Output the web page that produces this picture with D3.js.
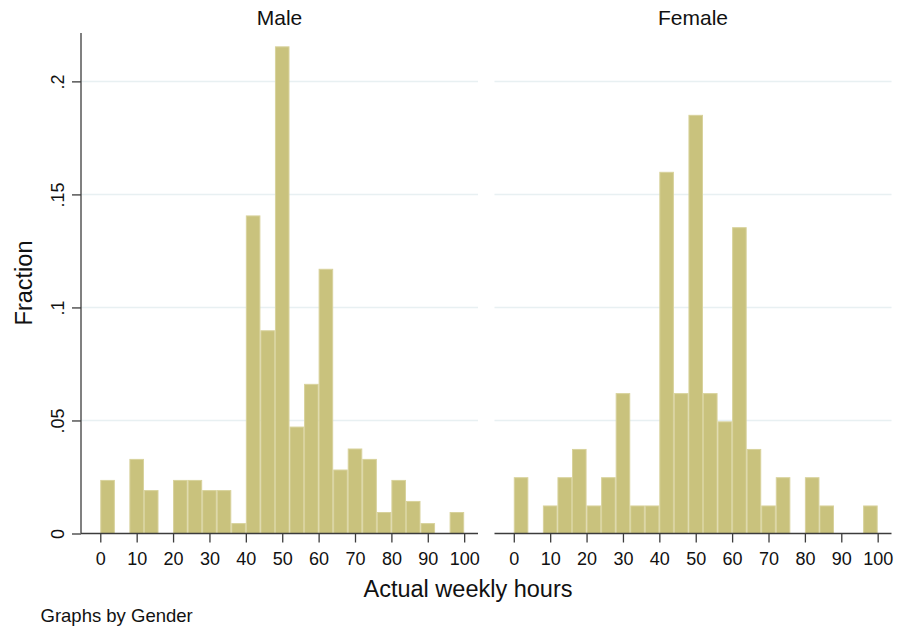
<!DOCTYPE html>
<html>
<head>
<meta charset="utf-8">
<script src="https://cdn.jsdelivr.net/npm/d3@7"></script>
<style>
  html, body { margin: 0; padding: 0; background: #fff; }
  svg { display: block; font-family: "Liberation Sans", Arial, sans-serif; }
</style>
</head>
<body>
<div id="chart"></div>
<script>
// Bin lower edges (width 4 hours)
const binStarts = [0,4,8,12,16,20,24,28,32,36,40,44,48,52,56,60,64,68,72,76,80,84,88,92,96];
const binWidth = 4;
const panels = ["Male", "Female"];
const maleFraction = [0.0237,0,0.0330,0.0192,0,0.0237,0.0237,0.0192,0.0192,0.0046,
  0.1407,0.0899,0.2155,0.0473,0.0662,0.1171,0.0283,0.0376,0.0330,0.0095,
  0.0237,0.0144,0.0046,0,0.0095];
const femaleFraction = [0.0249,0,0.0124,0.0249,0.0374,0.0124,0.0249,0.0621,0.0124,0.0124,
  0.1600,0.0621,0.1852,0.0621,0.0496,0.1355,0.0374,0.0124,0.0249,0,
  0.0249,0.0124,0,0,0.0124];
const xTicks = [0,10,20,30,40,50,60,70,80,90,100];
const yTicks = [0,0.05,0.1,0.15,0.2];
const yTickLabels = ["0",".05",".1",".15",".2"];

const W = 899, H = 630;
const svg = d3.select("#chart").append("svg").attr("width", W).attr("height", H);

const plotTop = 33, plotBottom = 533.5;
const panelLeft = [81, 494.5];
const panelW = 397;
const y = d3.scaleLinear().domain([0, 0.2214]).range([plotBottom, plotTop]);

const fill = "#C9C27D", edge = "#D8D29C", axisCol = "#3c3c3c", gridCol = "#E8F0F2";
const seriesAll = [maleFraction, femaleFraction];

panels.forEach((name, i) => {
  const x0 = panelLeft[i];
  const x = d3.scaleLinear().domain([-5.3, 103.8]).range([x0, x0 + panelW]);
  const g = svg.append("g");

  // gridlines
  g.selectAll("line.grid").data(yTicks.filter(d => d > 0)).enter().append("line")
    .attr("class", "grid")
    .attr("x1", x0).attr("x2", x0 + panelW)
    .attr("y1", d => y(d)).attr("y2", d => y(d))
    .attr("stroke", gridCol).attr("stroke-width", 1.5);

  // bars
  const data = binStarts.map((b, k) => ({lo: b, hi: b + binWidth, v: seriesAll[i][k]})).filter(d => d.v > 0);
  g.selectAll("rect").data(data).enter().append("rect")
    .attr("x", d => x(d.lo) + 0.5)
    .attr("width", d => x(d.hi) - x(d.lo) - 1)
    .attr("y", d => y(d.v) + 0.5)
    .attr("height", d => y(0) - y(d.v) - 0.5)
    .attr("fill", fill).attr("stroke", edge).attr("stroke-width", 1);

  // x axis
  const xa = d3.axisBottom(x).tickValues(xTicks).tickSize(9).tickPadding(4).tickSizeOuter(0);
  const gx = g.append("g").attr("transform", `translate(0,${plotBottom})`).call(xa);
  gx.select(".domain").remove();
  gx.append("line").attr("x1", x0).attr("x2", x0 + panelW).attr("y1", 0).attr("y2", 0)
    .attr("stroke", axisCol).attr("stroke-width", 1.3);
  gx.selectAll(".tick line").attr("stroke", axisCol).attr("stroke-width", 1.3);
  gx.selectAll(".tick text").attr("fill", "#111").style("font-size", "18px")
    .attr("dy", null).attr("y", 31);

  // title
  svg.append("text").attr("x", x0 + panelW / 2).attr("y", 25)
    .attr("text-anchor", "middle").style("font-size", "21px").attr("fill", "#111").text(name);

  if (i === 0) {
    const ya = d3.axisLeft(y).tickValues(yTicks).tickFormat((d, k) => yTickLabels[k])
      .tickSize(9).tickSizeOuter(0);
    const gy = g.append("g").attr("transform", `translate(${x0},0)`).call(ya);
    gy.select(".domain").remove();
    gy.append("line").attr("x1", 0).attr("x2", 0).attr("y1", plotTop).attr("y2", plotBottom)
      .attr("stroke", axisCol).attr("stroke-width", 1.3);
    gy.selectAll(".tick line").attr("stroke", axisCol).attr("stroke-width", 1.3);
    gy.selectAll(".tick text").attr("fill", "#111").style("font-size", "18px")
      .attr("x", null).attr("dy", null).attr("text-anchor", "middle")
      .attr("transform", "translate(-17,0) rotate(-90)");
  }
});

svg.append("text").attr("transform", "translate(31.5,283) rotate(-90)")
  .attr("text-anchor", "middle").style("font-size", "23.5px").attr("fill", "#111").text("Fraction");
svg.append("text").attr("x", 468).attr("y", 596.5)
  .attr("text-anchor", "middle").style("font-size", "23.5px").attr("fill", "#111").text("Actual weekly hours");
svg.append("text").attr("x", 40.5).attr("y", 621.5)
  .style("font-size", "18.5px").attr("fill", "#111").text("Graphs by Gender");
</script>
</body>
</html>
